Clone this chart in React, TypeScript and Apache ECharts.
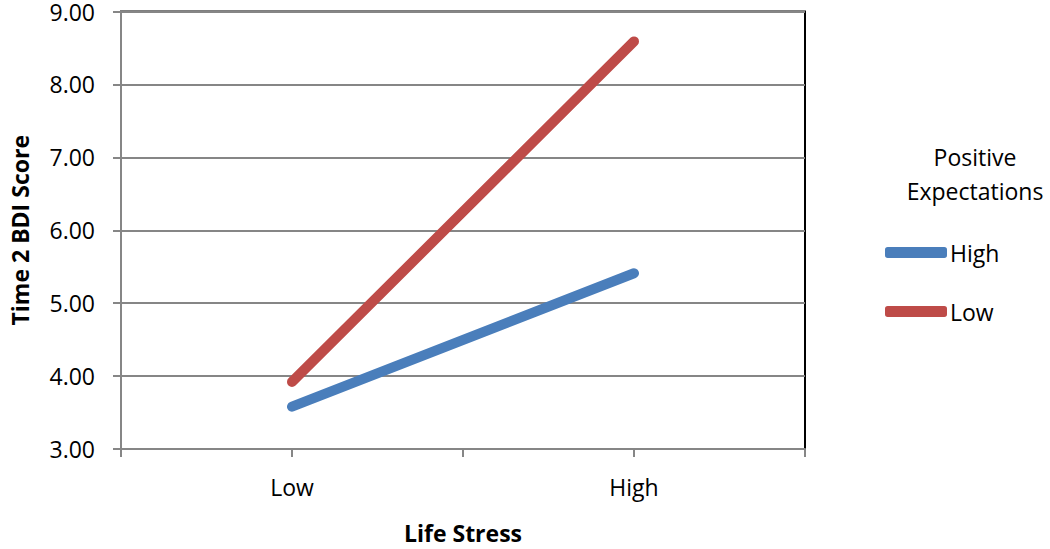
import React, { useEffect, useRef } from "react";
import * as echarts from "echarts";

const categories = ["Low", "High"];
const seriesNames = ["High", "Low"];
const highExpectations = [3.58, 5.41];
const lowExpectations = [3.92, 8.59];
const yTicks = { min: 3, max: 9, interval: 1 };
const colors = ["#4A7EBB", "#BE4B48"];

const FONT = "'Open Sans', 'Noto Sans', sans-serif";

export default function App() {
  const ref = useRef<HTMLDivElement>(null);
  useEffect(() => {
    if (!ref.current) return;
    const chart = echarts.init(ref.current, null, { renderer: "svg" });
    const toPts = (vals: number[]) => vals.map((v, i) => [2 * i + 1, v]);
    const gray = "#868686";
    chart.setOption({
      animation: false,
      textStyle: { fontFamily: FONT },
      grid: {
        left: 115,
        right: 245,
        top: 10,
        bottom: 91,
        show: true,
        borderColor: "#000",
        borderWidth: 2,
      },
      xAxis: {
        type: "value",
        min: 0,
        max: categories.length * 2,
        interval: 1,
        name: "Life Stress",
        nameLocation: "middle",
        nameGap: 72,
        nameTextStyle: { fontSize: 23, fontWeight: "bold", color: "#000", fontFamily: FONT },
        axisLine: { show: true, lineStyle: { color: gray, width: 2 } },
        axisTick: { show: true, length: 8, lineStyle: { color: gray, width: 2 } },
        splitLine: { show: false },
        axisLabel: {
          fontSize: 23,
          color: "#000",
          margin: 26,
          fontFamily: FONT,
          formatter: (v: number) => (v % 2 === 1 ? categories[(v - 1) / 2] : ""),
        },
      },
      yAxis: {
        type: "value",
        min: yTicks.min,
        max: yTicks.max,
        interval: yTicks.interval,
        name: "Time 2 BDI Score",
        nameLocation: "middle",
        nameGap: 90,
        nameTextStyle: { fontSize: 23, fontWeight: "bold", color: "#000", fontFamily: FONT },
        axisLine: { show: true, lineStyle: { color: gray, width: 2 } },
        axisTick: { show: true, length: 8, lineStyle: { color: gray, width: 2 } },
        splitLine: { show: true, lineStyle: { color: gray, width: 2 } },
        axisLabel: {
          fontSize: 23,
          color: "#000",
          margin: 26,
          fontFamily: FONT,
          formatter: (v: number) => v.toFixed(2),
        },
      },
      legend: {
        orient: "vertical",
        left: 880,
        top: 236,
        itemWidth: 62,
        itemHeight: 11,
        itemGap: 36,
        icon: "roundRect",
        textStyle: { fontSize: 23, color: "#000", fontFamily: FONT, padding: [0, 0, 0, -2] },
        data: seriesNames,
      },
      graphic: [
        {
          type: "text",
          x: 975,
          y: 140,
          style: {
            text: "Positive\nExpectations",
            fontSize: 23,
            lineHeight: 34,
            fill: "#000",
            fontFamily: FONT,
            textAlign: "center",
          },
        },
      ],
      series: [
        {
          name: seriesNames[0],
          type: "line",
          data: toPts(highExpectations),
          showSymbol: false,
          symbol: "none",
          lineStyle: { color: colors[0], width: 10, cap: "round" },
          itemStyle: { color: colors[0] },
        },
        {
          name: seriesNames[1],
          type: "line",
          data: toPts(lowExpectations),
          showSymbol: false,
          symbol: "none",
          lineStyle: { color: colors[1], width: 10, cap: "round" },
          itemStyle: { color: colors[1] },
        },
      ],
    });
    return () => chart.dispose();
  }, []);
  return <div ref={ref} style={{ width: 1050, height: 549, position: "absolute", left: 0, top: 0 }} />;
}
